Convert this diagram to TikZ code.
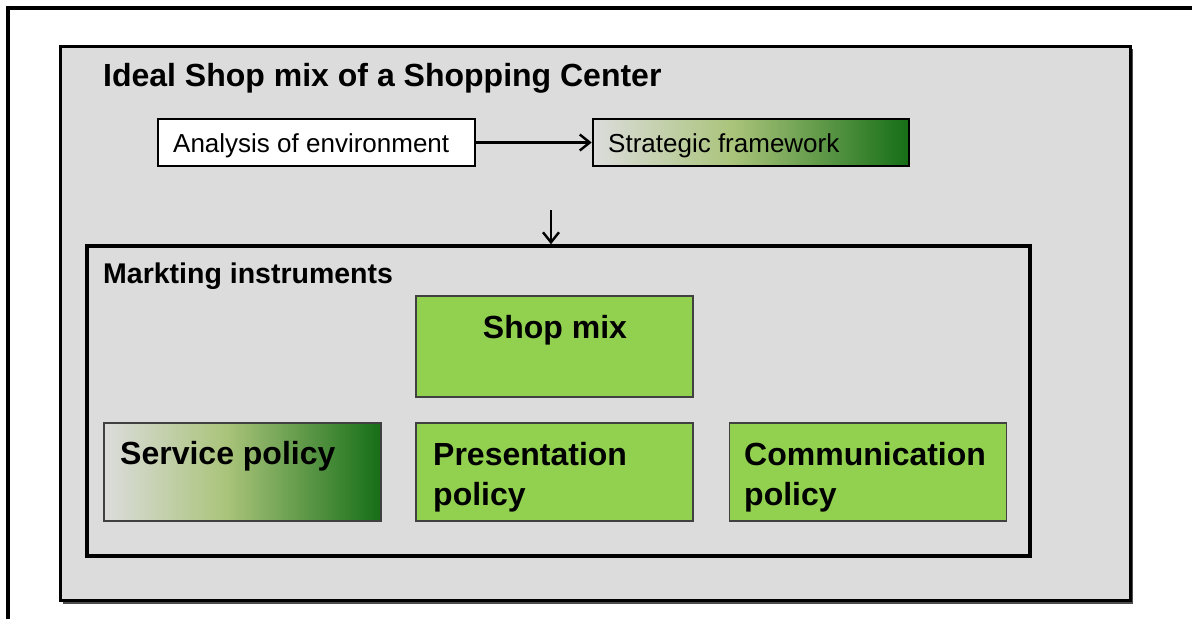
\documentclass[tikz,border=0pt]{standalone}
\usepackage{fontspec}
\setmainfont{Liberation Sans}
\usetikzlibrary{arrows.meta}
\definecolor{panelgray}{HTML}{DCDCDC}
\definecolor{boxgreen}{HTML}{92D050}
\definecolor{olivegreen}{HTML}{AAC47B}
\definecolor{darkgreen}{HTML}{156E16}
\definecolor{lightend}{HTML}{DCDCDC}
\pgfdeclarehorizontalshading{greengrad}{100bp}{color(0bp)=(lightend); color(25bp)=(lightend); color(47bp)=(olivegreen); color(75bp)=(darkgreen); color(100bp)=(darkgreen)}
\tikzset{
  plainbox/.style={draw=black, line width=2.6pt, fill=white, minimum width=317pt, minimum height=47pt, inner sep=0pt},
  gradbox/.style={draw=black, line width=2.6pt, shading=greengrad, minimum height=47pt, inner sep=0pt},
  greenbox/.style={draw=black!75, line width=1.6pt, fill=boxgreen, minimum width=277pt, inner sep=0pt},
  gradpol/.style={draw=black!75, line width=1.6pt, shading=greengrad, minimum width=277pt, inner sep=0pt},
  smalltxt/.style={font=\fontsize{26}{31}\selectfont, inner sep=0pt, anchor=base west},
  bigtxt/.style={font=\bfseries\fontsize{32}{40}\selectfont, inner sep=0pt, anchor=base west, align=left},
  arr/.style={line width=2.4pt, -{Straight Barb[length=10pt,width=16pt,line width=2.4pt]}}
}
\begin{document}
\begin{tikzpicture}[x=1pt,y=-1pt]
\useasboundingbox (0,0) rectangle (1192,619);
\fill[white] (0,0) rectangle (1192,619);
% outer frame (top and left only)
\draw[line width=3.5pt] (8,619) -- (8,8) -- (1192,8);
% gray panel with shadow
\fill[black!70] (63,49) rectangle (1133,604);
\node[draw=black, line width=3pt, fill=panelgray, minimum width=1070pt, minimum height=554pt, inner sep=0pt] (panel) at (595,323) {};
\node[font=\bfseries\fontsize{32}{38}\selectfont, inner sep=0pt, anchor=base west] (title) at (103,86) {Ideal Shop mix of a Shopping Center};
% top row
\node[plainbox] (analysis) at (316.5,142.5) {};
\node[smalltxt] (analysistxt) at (173,152) {Analysis of environment};
\node[gradbox, minimum width=316pt] (strategic) at (751,142.5) {};
\node[smalltxt] (strategictxt) at (608,152) {Strategic framework};
\draw[arr] (analysis.east) -- (strategic.west);
% marketing instruments
\node[draw=black, line width=3.6pt, minimum width=943pt, minimum height=310pt, inner sep=0pt] (mk) at (558.5,401) {};
\coordinate (dtop) at (551,210);
\draw[arr] (dtop) -- (dtop |- mk.north);
\node[font=\bfseries\fontsize{28.5}{34}\selectfont, inner sep=0pt, anchor=base west] (mktxt) at (103,283) {Markting instruments};
\node[greenbox, minimum height=101pt] (shop) at (554.5,346.5) {};
\node[font=\bfseries\fontsize{32}{38}\selectfont, inner sep=0pt, anchor=base] (shoptxt) at (555,338) {Shop mix};
\node[gradpol, minimum height=98pt] (service) at (242.5,472) {};
\node[bigtxt] (servicetxt) at (120,464) {Service policy};
\node[greenbox, minimum height=98pt] (present) at (554.5,472) {};
\node[bigtxt] (presenttxt) at (433,505) {Presentation\\policy};
\node[greenbox, minimum height=98pt] (comm) at (868,472) {};
\node[bigtxt] (commtxt) at (744,505) {Communication\\policy};
\end{tikzpicture}
\end{document}
